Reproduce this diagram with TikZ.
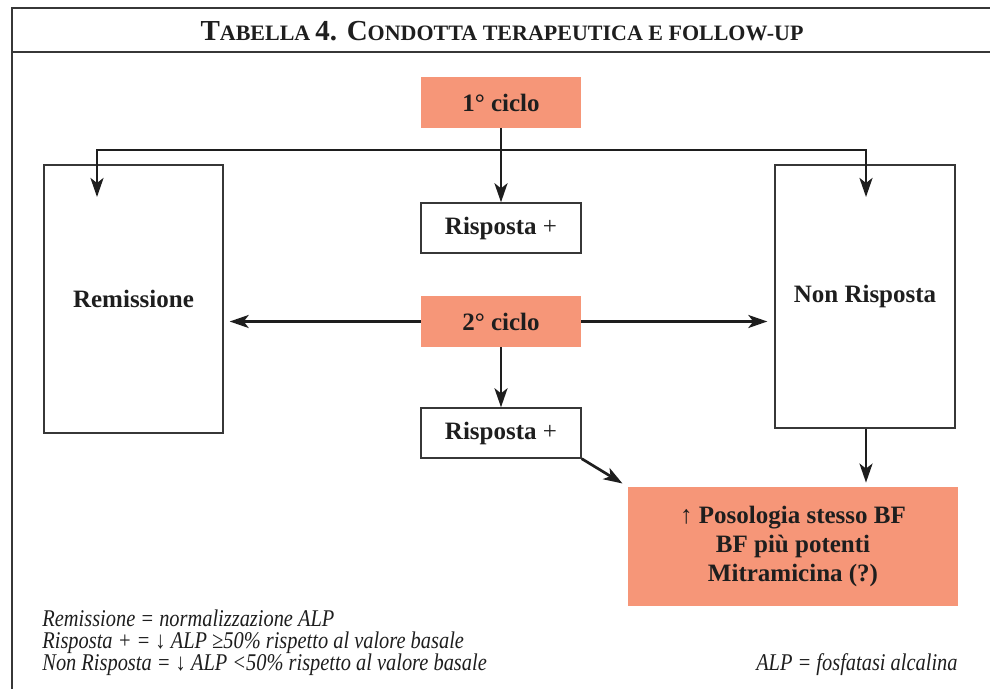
\documentclass[tikz,border=0pt]{standalone}
\usepackage{fontspec}
\setmainfont{Liberation Serif}
\newfontfamily\notefont[FakeStretch=0.85]{Liberation Serif}
\usetikzlibrary{arrows.meta,positioning}
\definecolor{salmon}{RGB}{246,150,120}
\definecolor{framegray}{RGB}{55,55,55}
\definecolor{inkblack}{RGB}{30,30,30}
\newcommand{\fakesc}[2]{{\fontsize{14.5}{16}\selectfont #1}{\fontsize{11}{16}\selectfont #2}}
\tikzset{
  cyclebox/.style={rectangle,fill=salmon,minimum width=80pt,minimum height=25.5pt,inner sep=0pt,
    font=\bfseries\fontsize{12.5}{14}\selectfont,text=inkblack},
  answerbox/.style={rectangle,draw=framegray,line width=0.7pt,fill=white,minimum width=80pt,
    minimum height=25pt,inner sep=0pt,font=\bfseries\fontsize{12.5}{14}\selectfont,text=inkblack},
  arr/.style={-{Stealth[length=9.5pt,width=6.5pt,inset=2.5pt]},line width=1.35pt,draw=inkblack},
  notetext/.style={anchor=base west,inner sep=0pt,font=\notefont\itshape\fontsize{12}{14}\selectfont,text=inkblack}
}

\begin{document}
\begin{tikzpicture}[x=0.5pt,y=-0.5pt]
  \useasboundingbox (0,0) rectangle (990,689);

  % frame and title
  \draw[line width=1pt,draw=framegray] (990,8) -- (12,8) -- (12,689);
  \draw[line width=1pt,draw=framegray] (12,52) -- (990,52);
  \node[text=inkblack,font=\bfseries] (title) at (502,31)
    {\fakesc{T}{ABELLA} \fakesc{4. C}{ONDOTTA TERAPEUTICA E FOLLOW-UP}};

  % boxes
  \node[cyclebox] (c1) at (501,102.5) {1° ciclo};
  \node[answerbox] (r1) at (501,228) {Risposta {\mdseries +}};
  \node[answerbox,minimum width=89.5pt,minimum height=134pt] (rem) at (133.5,299) {Remissione};
  \node[answerbox,minimum width=90pt,minimum height=131.5pt] (nonr) at (865,296.5) {Non Risposta};
  \node[cyclebox] (c2) at (501,321.5) {2° ciclo};
  \node[answerbox] (r2) at (501,433) {Risposta {\mdseries +}};
  \node[cyclebox,minimum width=165pt,minimum height=59.5pt,align=center,
    font=\bfseries\fontsize{12.5}{14.5}\selectfont] (cure) at (793,546.5)
    {{\mdseries ↑} Posologia stesso BF\\BF più potenti\\Mitramicina (?)};

  % connectors
  \coordinate (split) at (501,150);
  \coordinate (remin) at (97,197);
  \coordinate (nonin) at (866,197);

  \draw[arr] (c1) -- (r1);
  \draw[arr] (split) -| (remin);
  \draw[arr] (split) -| (nonin);
  \draw[arr,shorten >=3pt] (c2.west) -- (c2.west -| rem.east);
  \draw[arr,shorten >=3.5pt] (c2.east) -- (c2.east -| nonr.west);
  \draw[arr] (c2) -- (r2);
  \draw[arr,shorten >=3pt] (r2.south east) -- (cure.north west);
  \draw[arr,shorten >=2pt] (nonr.south -| nonin) -- (cure.north -| nonin);

  % notes
  \node[notetext] (n1) at (42,626) {Remissione = normalizzazione ALP};
  \node[notetext] (n2) at (42,648) {Risposta + = ↓ ALP ≥50\% rispetto al valore basale};
  \node[notetext] (n3) at (42,670) {Non Risposta = ↓ ALP <50\% rispetto al valore basale};
  \node[notetext,anchor=base east] (n4) at (958,670) {ALP = fosfatasi alcalina};
\end{tikzpicture}
\end{document}
